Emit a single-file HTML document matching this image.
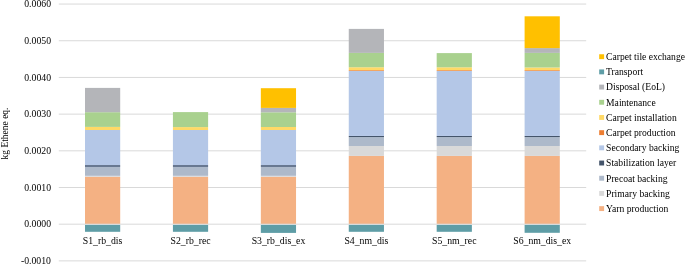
<!DOCTYPE html><html><head><meta charset="utf-8"><style>html,body{margin:0;padding:0;background:#fff;width:685px;height:265px;overflow:hidden}svg{display:block}svg{will-change:transform}text{font-family:"Liberation Serif", serif;font-size:9.6px;fill:#000}</style></head><body>
<svg width="685" height="265" viewBox="0 0 685 265">
<line x1="58.8" x2="586.2" y1="4.06" y2="4.06" stroke="#D9D9D9" stroke-width="1"/>
<line x1="58.8" x2="586.2" y1="40.75" y2="40.75" stroke="#D9D9D9" stroke-width="1"/>
<line x1="58.8" x2="586.2" y1="77.44" y2="77.44" stroke="#D9D9D9" stroke-width="1"/>
<line x1="58.8" x2="586.2" y1="114.13" y2="114.13" stroke="#D9D9D9" stroke-width="1"/>
<line x1="58.8" x2="586.2" y1="150.82" y2="150.82" stroke="#D9D9D9" stroke-width="1"/>
<line x1="58.8" x2="586.2" y1="187.51" y2="187.51" stroke="#D9D9D9" stroke-width="1"/>
<line x1="58.8" x2="586.2" y1="260.89" y2="260.89" stroke="#D9D9D9" stroke-width="1"/>
<rect x="85.00" y="176.80" width="35.20" height="47.20" fill="#F4B183"/>
<rect x="85.00" y="175.80" width="35.20" height="1.00" fill="#D9D9D9"/>
<rect x="85.00" y="167.00" width="35.20" height="8.80" fill="#ADB9CA"/>
<rect x="85.00" y="165.00" width="35.20" height="2.00" fill="#687891"/>
<rect x="85.00" y="130.00" width="35.20" height="35.00" fill="#B4C7E7"/>
<rect x="85.00" y="126.90" width="35.20" height="3.10" fill="#FFD966"/>
<rect x="85.00" y="112.20" width="35.20" height="14.70" fill="#A9D18E"/>
<rect x="85.00" y="87.90" width="35.20" height="24.30" fill="#B4B5B9"/>
<rect x="85.00" y="224.70" width="35.20" height="7.10" fill="#5E9DA6"/>
<rect x="172.92" y="176.80" width="35.20" height="47.20" fill="#F4B183"/>
<rect x="172.92" y="175.80" width="35.20" height="1.00" fill="#D9D9D9"/>
<rect x="172.92" y="167.00" width="35.20" height="8.80" fill="#ADB9CA"/>
<rect x="172.92" y="165.00" width="35.20" height="2.00" fill="#687891"/>
<rect x="172.92" y="130.00" width="35.20" height="35.00" fill="#B4C7E7"/>
<rect x="172.92" y="127.10" width="35.20" height="2.90" fill="#FFD966"/>
<rect x="172.92" y="112.10" width="35.20" height="15.00" fill="#A9D18E"/>
<rect x="172.92" y="224.70" width="35.20" height="7.10" fill="#5E9DA6"/>
<rect x="260.84" y="176.80" width="35.20" height="47.20" fill="#F4B183"/>
<rect x="260.84" y="175.80" width="35.20" height="1.00" fill="#D9D9D9"/>
<rect x="260.84" y="167.00" width="35.20" height="8.80" fill="#ADB9CA"/>
<rect x="260.84" y="165.00" width="35.20" height="2.00" fill="#687891"/>
<rect x="260.84" y="130.00" width="35.20" height="35.00" fill="#B4C7E7"/>
<rect x="260.84" y="127.00" width="35.20" height="3.00" fill="#FFD966"/>
<rect x="260.84" y="112.30" width="35.20" height="14.70" fill="#A9D18E"/>
<rect x="260.84" y="107.90" width="35.20" height="4.40" fill="#B4B5B9"/>
<rect x="260.84" y="88.20" width="35.20" height="19.70" fill="#FFC000"/>
<rect x="260.84" y="224.70" width="35.20" height="8.20" fill="#5E9DA6"/>
<rect x="348.76" y="155.90" width="35.20" height="68.10" fill="#F4B183"/>
<rect x="348.76" y="146.00" width="35.20" height="9.90" fill="#D9D9D9"/>
<rect x="348.76" y="137.05" width="35.20" height="8.95" fill="#ADB9CA"/>
<rect x="348.76" y="135.95" width="35.20" height="1.10" fill="#44546A"/>
<rect x="348.76" y="70.90" width="35.20" height="65.05" fill="#B4C7E7"/>
<rect x="348.76" y="70.15" width="35.20" height="0.75" fill="#ED7D31"/>
<rect x="348.76" y="67.25" width="35.20" height="2.90" fill="#FFD966"/>
<rect x="348.76" y="52.90" width="35.20" height="14.35" fill="#A9D18E"/>
<rect x="348.76" y="28.90" width="35.20" height="24.00" fill="#B4B5B9"/>
<rect x="348.76" y="224.70" width="35.20" height="7.10" fill="#5E9DA6"/>
<rect x="436.68" y="155.90" width="35.20" height="68.10" fill="#F4B183"/>
<rect x="436.68" y="146.00" width="35.20" height="9.90" fill="#D9D9D9"/>
<rect x="436.68" y="137.05" width="35.20" height="8.95" fill="#ADB9CA"/>
<rect x="436.68" y="135.95" width="35.20" height="1.10" fill="#44546A"/>
<rect x="436.68" y="70.90" width="35.20" height="65.05" fill="#B4C7E7"/>
<rect x="436.68" y="70.15" width="35.20" height="0.75" fill="#ED7D31"/>
<rect x="436.68" y="67.30" width="35.20" height="2.85" fill="#FFD966"/>
<rect x="436.68" y="53.10" width="35.20" height="14.20" fill="#A9D18E"/>
<rect x="436.68" y="224.70" width="35.20" height="7.10" fill="#5E9DA6"/>
<rect x="524.60" y="155.90" width="35.20" height="68.10" fill="#F4B183"/>
<rect x="524.60" y="146.00" width="35.20" height="9.90" fill="#D9D9D9"/>
<rect x="524.60" y="137.05" width="35.20" height="8.95" fill="#ADB9CA"/>
<rect x="524.60" y="135.95" width="35.20" height="1.10" fill="#44546A"/>
<rect x="524.60" y="70.90" width="35.20" height="65.05" fill="#B4C7E7"/>
<rect x="524.60" y="70.15" width="35.20" height="0.75" fill="#ED7D31"/>
<rect x="524.60" y="67.50" width="35.20" height="2.65" fill="#FFD966"/>
<rect x="524.60" y="52.90" width="35.20" height="14.60" fill="#A9D18E"/>
<rect x="524.60" y="48.10" width="35.20" height="4.80" fill="#B4B5B9"/>
<rect x="524.60" y="16.30" width="35.20" height="31.80" fill="#FFC000"/>
<rect x="524.60" y="224.70" width="35.20" height="8.10" fill="#5E9DA6"/>
<line x1="58.8" x2="586.2" y1="224.20" y2="224.20" stroke="#D9D9D9" stroke-width="1"/>
<text x="51.0" y="6.71" text-anchor="end" style="font-size:9.75px">0.0060</text>
<text x="51.0" y="43.85" text-anchor="end" style="font-size:9.75px">0.0050</text>
<text x="51.0" y="80.54" text-anchor="end" style="font-size:9.75px">0.0040</text>
<text x="51.0" y="117.23" text-anchor="end" style="font-size:9.75px">0.0030</text>
<text x="51.0" y="153.92" text-anchor="end" style="font-size:9.75px">0.0020</text>
<text x="51.0" y="190.61" text-anchor="end" style="font-size:9.75px">0.0010</text>
<text x="51.0" y="227.30" text-anchor="end" style="font-size:9.75px">0.0000</text>
<text x="51.0" y="263.99" text-anchor="end" style="font-size:9.75px">-0.0010</text>
<text x="102.60" y="244" text-anchor="middle" style="font-size:9.75px">S1_rb_dis</text>
<text x="190.52" y="244" text-anchor="middle" style="font-size:9.75px">S2_rb_rec</text>
<text x="278.44" y="244" text-anchor="middle" style="font-size:9.75px">S3_rb_dis_ex</text>
<text x="366.36" y="244" text-anchor="middle" style="font-size:9.75px">S4_nm_dis</text>
<text x="454.28" y="244" text-anchor="middle" style="font-size:9.75px">S5_nm_rec</text>
<text x="542.20" y="244" text-anchor="middle" style="font-size:9.75px">S6_nm_dis_ex</text>
<text transform="translate(8.2,133.5) rotate(-90)" text-anchor="middle" style="font-size:9.5px">kg Ethene eq.</text>
<rect x="599.2" y="54.25" width="4.9" height="4.9" fill="#FFC000"/>
<text x="606.1" y="60.00">Carpet tile exchange</text>
<rect x="599.2" y="69.44" width="4.9" height="4.9" fill="#5E9DA6"/>
<text x="606.1" y="75.19">Transport</text>
<rect x="599.2" y="84.63" width="4.9" height="4.9" fill="#B4B5B9"/>
<text x="606.1" y="90.38">Disposal (EoL)</text>
<rect x="599.2" y="99.82" width="4.9" height="4.9" fill="#A9D18E"/>
<text x="606.1" y="105.57">Maintenance</text>
<rect x="599.2" y="115.01" width="4.9" height="4.9" fill="#FFD966"/>
<text x="606.1" y="120.76">Carpet installation</text>
<rect x="599.2" y="130.20" width="4.9" height="4.9" fill="#ED7D31"/>
<text x="606.1" y="135.95">Carpet production</text>
<rect x="599.2" y="145.39" width="4.9" height="4.9" fill="#B4C7E7"/>
<text x="606.1" y="151.14">Secondary backing</text>
<rect x="599.2" y="160.58" width="4.9" height="4.9" fill="#44546A"/>
<text x="606.1" y="166.33">Stabilization layer</text>
<rect x="599.2" y="175.77" width="4.9" height="4.9" fill="#ADB9CA"/>
<text x="606.1" y="181.52">Precoat backing</text>
<rect x="599.2" y="190.96" width="4.9" height="4.9" fill="#D9D9D9"/>
<text x="606.1" y="196.71">Primary backing</text>
<rect x="599.2" y="206.15" width="4.9" height="4.9" fill="#F4B183"/>
<text x="606.1" y="211.90">Yarn production</text>
</svg></body></html>
